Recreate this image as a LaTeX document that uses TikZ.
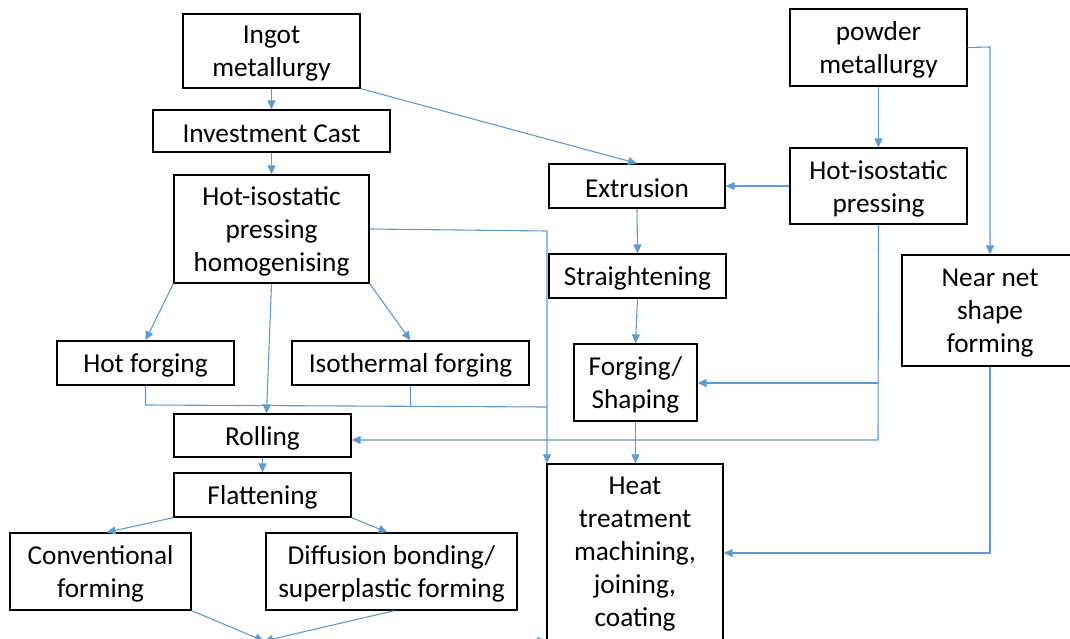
\documentclass[tikz,border=0pt]{standalone}
\usepackage{fontspec}
\setmainfont{Carlito}
\usetikzlibrary{arrows.meta,calc}
\definecolor{conn}{HTML}{5B9BD5}
\tikzset{
  box/.style={draw=black, line width=1.3pt, inner sep=0pt, anchor=center},
  txt/.style={inner sep=0pt, align=center, yshift=-2.5pt,
    font=\fontsize{27.3}{33}\selectfont},
  link/.style={draw=conn, line width=1.1pt, -{Triangle[length=9pt,width=8pt]}},
  plain/.style={draw=conn, line width=1.1pt}
}
\begin{document}
\begin{tikzpicture}[x=1pt,y=-1pt]
\useasboundingbox (0,0) rectangle (1070,639);
% left column
\node[box, minimum width=177pt, minimum height=74pt, label={[txt]center:{Ingot\\metallurgy}}] (ingot) at (271.5,51) {};
\node[box, minimum width=237pt, minimum height=42pt, label={[txt]center:{Investment Cast}}] (invest) at (271.5,131) {};
\node[box, minimum width=195pt, minimum height=108pt, label={[txt]center:{Hot-isostatic\\pressing\\homogenising}}] (hip) at (271.5,229) {};
\node[box, minimum width=177pt, minimum height=44pt, label={[txt]center:{Hot forging}}] (hotf) at (145.5,363) {};
\node[box, minimum width=237pt, minimum height=44pt, label={[txt]center:{Isothermal forging}}] (iso) at (410.5,363) {};
\node[box, minimum width=177pt, minimum height=43pt, label={[txt]center:{Rolling}}] (roll) at (262.5,435.5) {};
\node[box, minimum width=177pt, minimum height=44pt, label={[txt]center:{Flattening}}] (flat) at (262.5,495) {};
\node[box, minimum width=181pt, minimum height=77pt, label={[txt]center:{Conventional\\forming}}] (conv) at (100.5,571.5) {};
\node[box, minimum width=251pt, minimum height=77pt, label={[txt]center:{Diffusion bonding/\\superplastic forming}}] (diff) at (391.5,571.5) {};
% middle column
\node[box, minimum width=176pt, minimum height=44pt, label={[txt]center:{Extrusion}}] (extr) at (637,186) {};
\node[box, minimum width=177pt, minimum height=44pt, label={[txt]center:{Straightening}}] (str) at (637.5,276) {};
\node[box, minimum width=123pt, minimum height=77pt, label={[txt]center:{Forging/\\Shaping}}] (forg) at (635.5,382.5) {};
\node[box, minimum width=176pt, minimum height=176pt, label={[txt]center:{Heat\\treatment\\machining,\\joining,\\coating}}] (heat) at (635,552) {};
% right column
\node[box, minimum width=177pt, minimum height=77pt, label={[txt]center:{powder\\metallurgy}}] (powder) at (878.5,47.5) {};
\node[box, minimum width=177pt, minimum height=76pt, label={[txt]center:{Hot-isostatic\\pressing}}] (hip2) at (878.5,186) {};
\node[box, minimum width=176pt, minimum height=111pt, label={[txt]center:{Near net\\shape\\forming}}] (near) at (990,310.5) {};
% junction coordinates
\coordinate (j1) at (547,231);
\coordinate (j2) at (878,383);
\coordinate (j3) at (878,440);
\coordinate (j4) at (990,47);
\coordinate (j5) at (990,553);
\coordinate (m) at (264,641);
% connectors
\draw[link] (ingot.south) -- (invest.north);
\draw[link] (invest.south) -- (hip.north);
\draw[link] (ingot.south east) -- (extr.north);
\draw[link] (hip.south west) -- (hotf.north);
\draw[link] (hip.south) -- ($(roll.north)+(4,0)$);
\draw[link] (hip.south east) -- (iso.north);
\draw[link] (hip.east) -- (j1) -- (j1 |- heat.north);
\draw[plain] (hotf.south) -- (hotf.south |- 0,405) -- (j1 |- 0,407);
\draw[plain] (iso.south) -- (iso.south |- 0,406);
\draw[link] (roll.south) -- (flat.north);
\draw[link] (flat.south west) -- ($(conv.north)+(6,0)$);
\draw[link] (flat.south east) -- ($(diff.north)+(-4,0)$);
\draw[link] (conv.south east) -- (m);
\draw[link] ($(diff.south)+(3,0)$) -- (m);
\draw[link] (m) -- (heat.west |- m);
\draw[link] (extr.south) -- (str.north);
\draw[link] (str.south) -- (forg.north);
\draw[link] (forg.south) -- (forg.south |- heat.north);
\draw[link] (hip2.west) -- (extr.east);
\draw[link] (powder.south) -- (hip2.north);
\draw[link] (powder.east) -- (j4) -- (near.north);
\draw[link] (hip2.south) -- (j3) -- (roll.east |- j3);
\draw[link] (j2) -- (forg.east |- j2);
\draw[link] (near.south) -- (j5) -- (heat.east |- j5);
\end{tikzpicture}
\end{document}
